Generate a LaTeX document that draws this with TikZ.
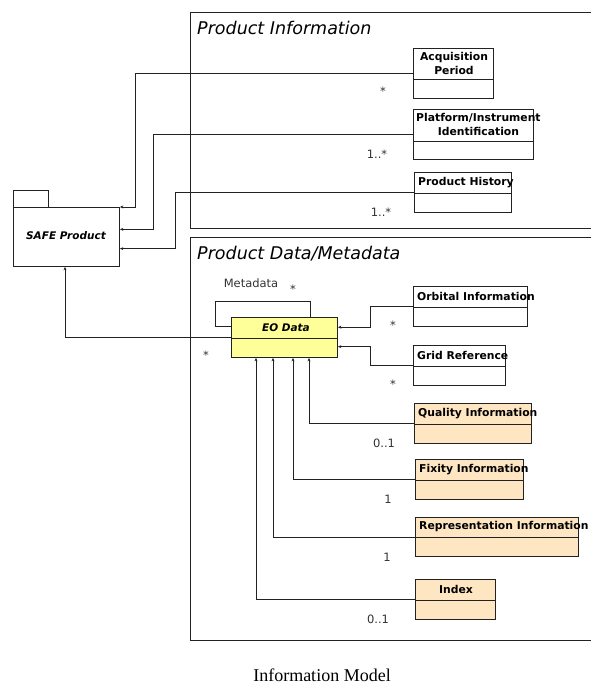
\documentclass[tikz,border=0pt]{standalone}
\usepackage{fontspec}
\setmainfont{DejaVu Sans}
\newfontfamily\capfont{Liberation Serif}
\usetikzlibrary{arrows.meta,calc}

\definecolor{eoyellow}{HTML}{FFFF99}
\definecolor{peachfill}{HTML}{FFE6C2}
\definecolor{linegray}{HTML}{222222}
\definecolor{labelgray}{HTML}{333333}

% UML class: name, x, y, width, height, header height, extra style
\newcommand\umlclass[7]{%
  \node[classbox,#7,minimum width=#4pt,minimum height=#5pt] (#1) at (#2,#3) {};
  \draw[divider] ($(#1.north west)+(0,#6)$) -- ($(#1.north east)+(0,#6)$);
}

\begin{document}
\begin{tikzpicture}[x=1pt,y=-1pt,
  frame/.style={draw=linegray,line width=0.9pt},
  classbox/.style={draw=linegray,line width=0.9pt,inner sep=0pt,anchor=north west,fill=white},
  divider/.style={draw=linegray,line width=0.9pt},
  peach/.style={fill=peachfill},
  yellow/.style={fill=eoyellow},
  hdr/.style={inner sep=0pt,font=\fontsize{10.8}{14}\selectfont\bfseries},
  title/.style={inner sep=0pt,anchor=base west,font=\fontsize{17.5}{20}\selectfont\itshape},
  mult/.style={inner sep=0pt,text=labelgray,font=\fontsize{11.5}{13}\selectfont},
  assoc/.style={draw=linegray,line width=0.9pt,-{Stealth[length=3.5pt,width=3pt]}},
  link/.style={draw=linegray,line width=0.9pt}
]
\useasboundingbox (0,0) rectangle (591,684);

% package frames (open towards the right)
\draw[frame] (591,12) -- (190,12) -- (190,228) -- (591,228);
\draw[frame] (591,237) -- (190,237) -- (190,640) -- (591,640);
\node[title] (pinfo) at (197,35) {Product Information};
\node[title] (pdata) at (197,259) {Product Data/Metadata};

% SAFE Product package symbol
\node[classbox,minimum width=35pt,minimum height=17pt] (safetab) at (13,190) {};
\node[classbox,minimum width=106pt,minimum height=59pt] (safe) at (13,207) {};
\node[inner sep=0pt,font=\fontsize{10.5}{12}\selectfont\bfseries\itshape] (safelbl) at ($(safe.north west)+(53,29)$) {SAFE Product};

% product information classes
\umlclass{acq}{413}{48}{80}{50}{31}{}
\node[hdr,align=center] (acqlbl) at ($(acq.north west)+(41,15)$) {Acquisition\\Period};
\umlclass{plat}{413}{109}{120}{50}{32}{}
\node[hdr,align=center,anchor=west] (platlbl) at ($(plat.north west)+(3,15.5)$) {Platform/Instrument\\Identification};
\umlclass{hist}{414}{172}{97}{40}{21}{}
\node[hdr,anchor=west] (histlbl) at ($(hist.north west)+(4,10.5)$) {Product History};

% product data classes
\umlclass{eo}{231}{317}{106}{40}{21}{yellow}
\node[hdr,font=\fontsize{10.5}{14}\selectfont\bfseries\itshape] (eolbl) at ($(eo.north west)+(55,10.5)$) {EO Data};
\umlclass{orb}{413}{286}{114}{40}{21}{}
\node[hdr,anchor=west] (orblbl) at ($(orb.north west)+(4,10.5)$) {Orbital Information};
\umlclass{grid}{413}{345}{92}{40}{21}{}
\node[hdr,anchor=west] (gridlbl) at ($(grid.north west)+(4,10.5)$) {Grid Reference};
\umlclass{qual}{414}{403}{117}{40}{21}{peach}
\node[hdr,anchor=west] (quallbl) at ($(qual.north west)+(4,10.5)$) {Quality Information};
\umlclass{fix}{415}{459}{108}{40}{21}{peach}
\node[hdr,anchor=west] (fixlbl) at ($(fix.north west)+(4,10.5)$) {Fixity Information};
\umlclass{rep}{415}{517}{163}{39}{20}{peach}
\node[hdr,anchor=west] (replbl) at ($(rep.north west)+(4,10)$) {Representation Information};
\umlclass{idx}{415}{579}{80}{40}{21}{peach}
\node[hdr] (idxlbl) at ($(idx.north west)+(41,10.5)$) {Index};

% associations to SAFE Product
\draw[assoc] (acq.west) -- ++(-278,0) |- (safe.north east);
\draw[assoc] (plat.west) -- ++(-260,0) |- ($(safe.north east)!0.373!(safe.south east)$);
\draw[assoc] (hist.west) -- ++(-239,0) |- ($(safe.north east)!0.695!(safe.south east)$);
\draw[assoc] (eo.west) -| ($(safe.south west)+(52,0)$);

% self association of EO Data
\draw[link] ($(eo.north west)!0.225!(eo.south west)$) -- ++(-16,0) -- ++(0,-25) -| ($(eo.north west)+(79,0)$);

% associations to EO Data
\draw[assoc] (orb.west) -- ++(-43,0) |- ($(eo.north east)!0.25!(eo.south east)$);
\draw[assoc] (grid.west) -- ++(-43,0) |- ($(eo.north east)!0.725!(eo.south east)$);
\draw[assoc] (qual.west) -| ($(eo.south west)+(78,0)$);
\draw[assoc] (fix.west) -| ($(eo.south west)+(62,0)$);
\draw[assoc] (rep.west) -| ($(eo.south west)+(42,0)$);
\draw[assoc] (idx.west) -| ($(eo.south west)+(25,0)$);

% multiplicities and role names
\node[mult] (m1) at (383,91) {*};
\node[mult] (m2) at (377,154) {1..*};
\node[mult] (m3) at (381,212) {1..*};
\node[mult] (mmeta) at (251,283) {Metadata};
\node[mult] (m4) at (293,289) {*};
\node[mult] (m5) at (206,355) {*};
\node[mult] (m6) at (393,325) {*};
\node[mult] (m7) at (393,384) {*};
\node[mult] (m8) at (384,443) {0..1};
\node[mult] (m9) at (388,499) {1};
\node[mult] (m10) at (387,557) {1};
\node[mult] (m11) at (378,619) {0..1};

% caption
\node[inner sep=0pt,anchor=base,font=\capfont\fontsize{18}{21}\selectfont] (caption) at (322,681) {Information Model};
\end{tikzpicture}
\end{document}
